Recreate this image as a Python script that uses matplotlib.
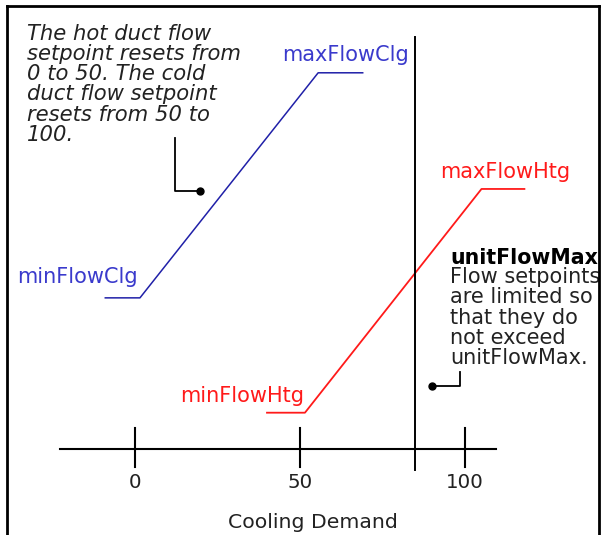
import matplotlib.pyplot as plt
from matplotlib.lines import Line2D

# cooling demand (x) vs flow setpoint (y)
clg_demand = [-9, 1.5, 55.5, 69]
clg_flow = [45.8, 45.8, 114, 114]
htg_demand = [40, 51.5, 105, 118]
htg_flow = [11, 11, 78.8, 78.8]
unit_flow_max_demand = 84.8
tick_values = [0, 50, 100]
tick_labels = ["0", "50", "100"]

BLUE_LINE = "#2020a8"
BLUE_TEXT = "#3a3acc"
RED = "#ff1a1a"
INK = "#222222"

W, H = 601, 535
PX = 3.3  # pixels per unit
X0, Y0 = 135, 449  # pixel position of the origin


def to_data(px, py):
    return (px - X0) / PX, (Y0 - py) / PX


fig = plt.figure(figsize=(W / 100, H / 100), dpi=100)
ax = fig.add_axes([0, 0, 1, 1])
ax.set_xlim(-X0 / PX, (W - X0) / PX)
ax.set_ylim((Y0 - H) / PX, Y0 / PX)
ax.set_axis_off()

# outer frame (no bottom edge visible)
for xs, ys in [((7, 7), (6, 535)), ((7, 599), (6, 6)), ((599, 599), (6, 535))]:
    fig.add_artist(Line2D([x / W for x in xs], [1 - y / H for y in ys],
                          color="black", lw=2.0, transform=fig.transFigure))

# setpoint reset lines
ax.plot(clg_demand, clg_flow, color=BLUE_LINE, lw=1.1)
ax.plot(htg_demand, htg_flow, color=RED, lw=1.3)

# demand axis with hand-drawn ticks
ax.plot([-22.7, 109.4], [0, 0], color="black", lw=1.5)
for v, lab in zip(tick_values, tick_labels):
    ax.plot([v, v], [-5.5, 6.5], color="black", lw=1.5)
    ax.text(v, -10.3, lab, ha="center", va="center", fontsize=14.3, color=INK)
ax.text(*to_data(313, 523), "Cooling Demand", ha="center", va="center",
        fontsize=14.7, color=INK)

# unitFlowMax limit
ax.plot([unit_flow_max_demand] * 2, [-6.4, 124.8], color="black", lw=1.4)

# curve labels
label_kw = dict(ha="left", va="center", fontsize=15)
ax.text(*to_data(282, 55), "maxFlowClg", color=BLUE_TEXT, **label_kw)
ax.text(*to_data(17, 277), "minFlowClg", color=BLUE_TEXT, **label_kw)
ax.text(*to_data(440, 172), "maxFlowHtg", color=RED, **label_kw)
ax.text(*to_data(180, 396), "minFlowHtg", color=RED, **label_kw)

# reset note with leader
ax.text(*to_data(27, 24), "The hot duct flow\nsetpoint resets from\n0 to 50. The cold\n"
        "duct flow setpoint\nresets from 50 to\n100.", ha="left", va="top",
        fontsize=15.2, style="italic", color=INK, linespacing=1.01)
lx, ly = zip(*[to_data(175, 138), to_data(175, 191), to_data(200, 191)])
ax.plot(lx, ly, color="black", lw=1.3)
ax.plot(lx[-1], ly[-1], "o", color="black", ms=5)

# unitFlowMax note with leader
ax.text(*to_data(450, 258), "unitFlowMax", ha="left", va="center",
        fontsize=14.8, weight="bold", color="black")
ax.text(*to_data(450, 267), "Flow setpoints\nare limited so\nthat they do\n"
        "not exceed\nunitFlowMax.", ha="left", va="top", fontsize=15,
        color=INK, linespacing=1.02)
lx, ly = zip(*[to_data(460, 372), to_data(460, 386), to_data(432, 386)])
ax.plot(lx, ly, color="black", lw=1.3)
ax.plot(lx[-1], ly[-1], "o", color="black", ms=5)

fig.savefig("out.png", dpi=100)
